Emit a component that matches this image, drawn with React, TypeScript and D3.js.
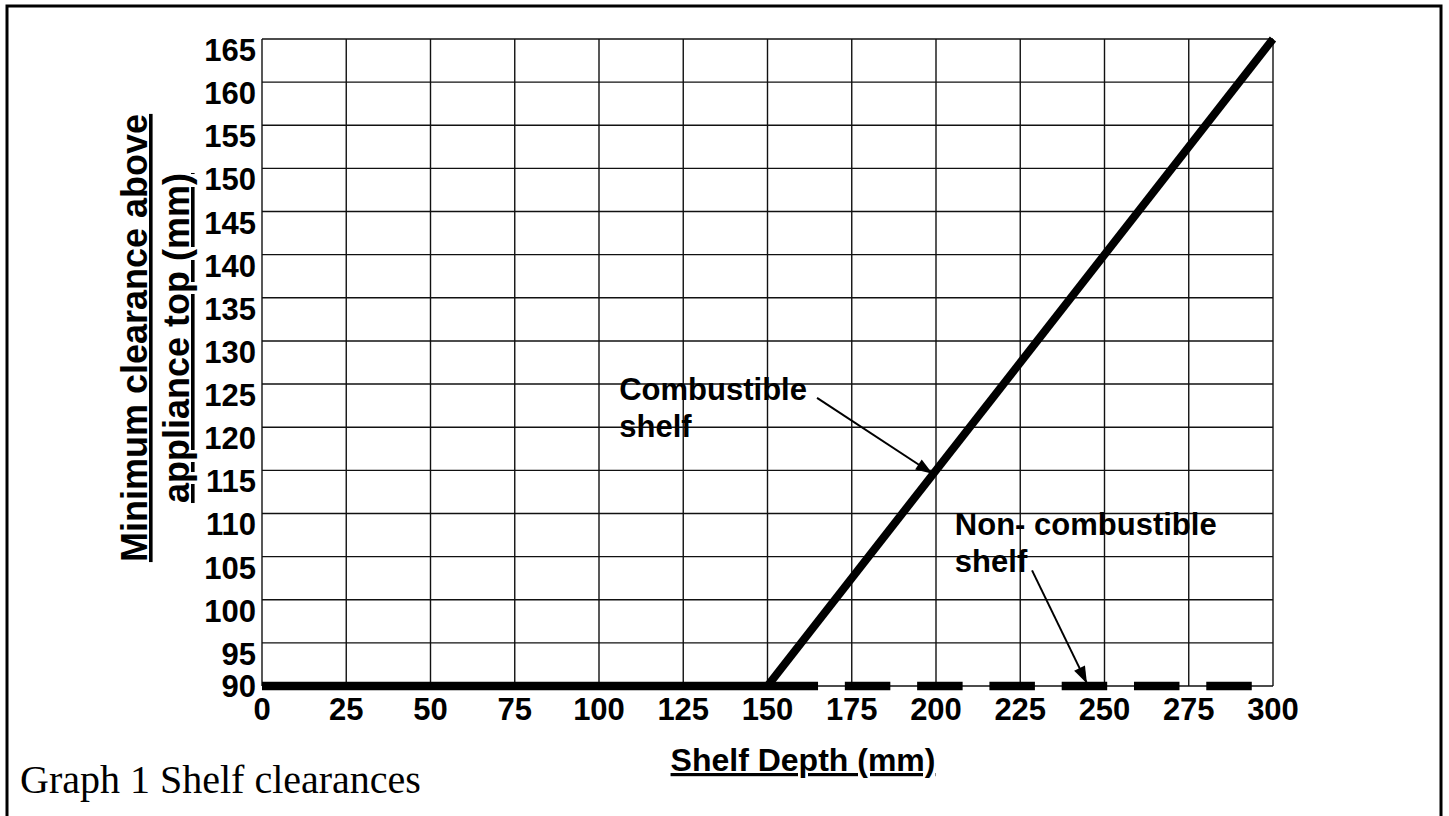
import React from "react";
import * as d3 from "d3";

const xTicks = [0, 25, 50, 75, 100, 125, 150, 175, 200, 225, 250, 275, 300];
const yTicks = [90, 95, 100, 105, 110, 115, 120, 125, 130, 135, 140, 145, 150, 155, 160, 165];

// Combustible shelf: clearance rises linearly from 150 mm depth
const combustibleX = [150, 300];
const combustibleY = [90, 165];

// Non-combustible shelf: flat 90 mm clearance
const nonCombustibleX = [0, 300];
const nonCombustibleY = [90, 90];
const nonCombSolidEnd = 165; // solid part of the line (mm depth)
const nonCombDash = 13.5; // dash length (mm of depth)
const nonCombGap = 7.95; // gap length (mm of depth)

const yTitleLines = ["Minimum clearance above", "appliance top (mm)"];
const xTitle = "Shelf Depth (mm)";
const caption = "Graph 1 Shelf clearances";

const annotationLabels = [
  ["Combustible", "shelf"],
  ["Non- combustible", "shelf"],
];
const annotationAnchors = [
  [106, 123.2],
  [205.6, 107.5],
];
const arrowFrom = [
  [164.7, 123.4],
  [228.5, 103.4],
];
const arrowTo = [
  [199, 114.6],
  [244.8, 90.3],
];

const W = 1449;
const H = 816;
const SANS = "'Liberation Sans', Arial, Helvetica, sans-serif";
const SERIF = "'Liberation Serif', 'Times New Roman', serif";

export default function App() {
  const x = d3.scaleLinear().domain([0, 300]).range([262, 1273]);
  const y = d3.scaleLinear().domain([90, 165]).range([686, 39]);

  const line = d3
    .line<[number, number]>()
    .x((d) => x(d[0]))
    .y((d) => y(d[1]));

  const combPts = combustibleX.map((v, i) => [v, combustibleY[i]] as [number, number]);
  const nonPts = nonCombustibleX.map((v, i) => [v, nonCombustibleY[i]] as [number, number]);

  const pxPerUnit = x(1) - x(0);
  const dashParts: number[] = [x(nonCombSolidEnd) - x(0)];
  let pos = nonCombSolidEnd;
  while (pos < 300) {
    dashParts.push(nonCombGap * pxPerUnit, nonCombDash * pxPerUnit);
    pos += nonCombGap + nonCombDash;
  }
  dashParts.push(2000);

  const arrowHead = (fx: number, fy: number, tx: number, ty: number) => {
    const dx = tx - fx;
    const dy = ty - fy;
    const len = Math.sqrt(dx * dx + dy * dy);
    const ux = dx / len;
    const uy = dy / len;
    const L = 17;
    const hw = 6;
    const bx = tx - ux * L;
    const by = ty - uy * L;
    return `M${tx},${ty} L${bx - uy * hw},${by + ux * hw} L${bx + uy * hw},${by - ux * hw} Z`;
  };

  const underline = { textDecorationSkipInk: "none" } as React.CSSProperties;

  return (
    <svg
      width={W}
      height={H}
      style={{ position: "absolute", left: 0, top: 0, background: "#fff" }}
    >
      <rect x={0} y={0} width={W} height={H} fill="#fff" />
      {/* outer frame */}
      <rect x={7} y={6} width={1434} height={840} fill="none" stroke="#000" strokeWidth={3} />

      {/* grid */}
      {xTicks.map((t) => (
        <line key={"gx" + t} x1={x(t)} x2={x(t)} y1={y(165)} y2={y(90)} stroke="#111" strokeWidth={1.4} />
      ))}
      {yTicks.map((t) => (
        <line key={"gy" + t} x1={x(0)} x2={x(300)} y1={y(t)} y2={y(t)} stroke="#111" strokeWidth={1.4} />
      ))}

      {/* non-combustible line */}
      <path
        d={line(nonPts) || ""}
        fill="none"
        stroke="#000"
        strokeWidth={8.5}
        strokeDasharray={dashParts.join(" ")}
      />
      {/* combustible line */}
      <path d={line(combPts) || ""} fill="none" stroke="#000" strokeWidth={8} />

      {/* y tick labels */}
      {yTicks.map((t) => (
        <text
          key={"yl" + t}
          x={256}
          y={t === 90 ? y(t) + 11 : y(t) + 22}
          textAnchor="end"
          fontFamily={SANS}
          fontWeight="bold"
          fontSize={31}
          fill="#000"
        >
          {t}
        </text>
      ))}

      {/* x tick labels */}
      {xTicks.map((t) => (
        <text
          key={"xl" + t}
          x={x(t)}
          y={720}
          textAnchor="middle"
          fontFamily={SANS}
          fontWeight="bold"
          fontSize={31}
          fill="#000"
        >
          {t}
        </text>
      ))}

      {/* y axis title */}
      {yTitleLines.map((s, i) => (
        <text
          key={"yt" + i}
          transform={`translate(${147 + i * 42},338) rotate(-90)`}
          textAnchor="middle"
          fontFamily={SANS}
          fontWeight="bold"
          fontSize={36}
          textDecoration="underline"
          style={underline}
          fill="#000"
        >
          {s}
        </text>
      ))}

      {/* x axis title */}
      <text
        x={803}
        y={771}
        textAnchor="middle"
        fontFamily={SANS}
        fontWeight="bold"
        fontSize={32}
        textDecoration="underline"
        style={underline}
        fill="#000"
      >
        {xTitle}
      </text>

      {/* caption */}
      <text x={20} y={793} fontFamily={SERIF} fontSize={40} fill="#000">
        {caption}
      </text>

      {/* annotations */}
      {annotationLabels.map((lines, i) => (
        <g key={"an" + i}>
          {lines.map((s, j) => (
            <text
              key={j}
              x={x(annotationAnchors[i][0])}
              y={y(annotationAnchors[i][1]) + j * 37}
              fontFamily={SANS}
              fontWeight="bold"
              fontSize={31}
              fill="#000"
            >
              {s}
            </text>
          ))}
          <line
            x1={x(arrowFrom[i][0])}
            y1={y(arrowFrom[i][1])}
            x2={x(arrowTo[i][0])}
            y2={y(arrowTo[i][1])}
            stroke="#000"
            strokeWidth={2}
          />
          <path
            d={arrowHead(x(arrowFrom[i][0]), y(arrowFrom[i][1]), x(arrowTo[i][0]), y(arrowTo[i][1]))}
            fill="#000"
          />
        </g>
      ))}
    </svg>
  );
}
